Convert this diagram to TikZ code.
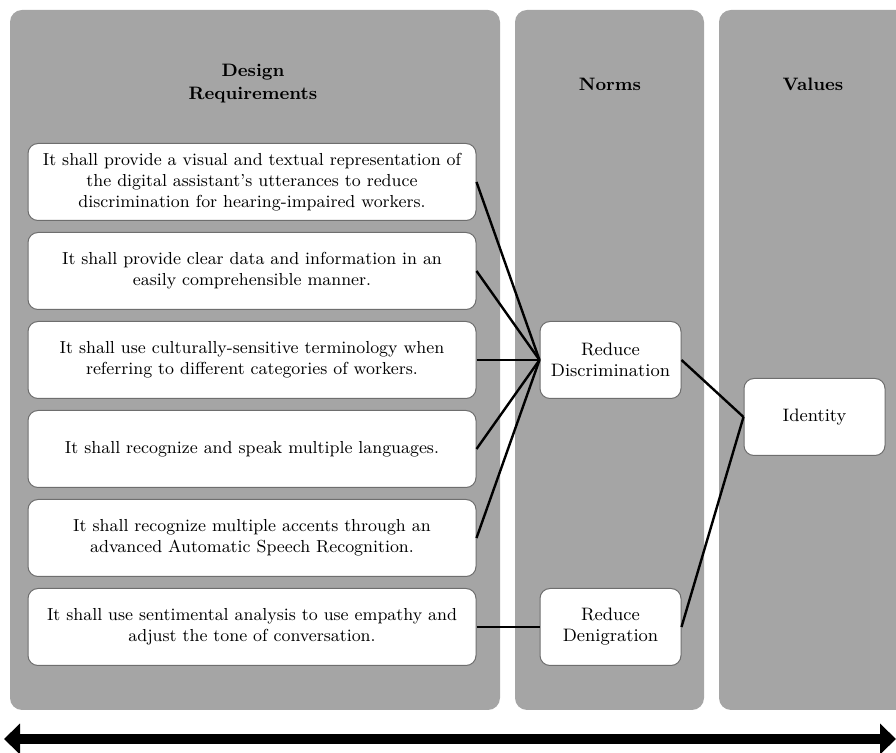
\documentclass[tikz,border=0pt]{standalone}
\usetikzlibrary{arrows.meta}
\definecolor{panelgray}{HTML}{A5A5A5}
\definecolor{boxline}{HTML}{6E6E6E}
\tikzset{
    panel/.style={fill=panelgray, rounded corners=6pt},
    head/.style={font=\fontsize{9}{11.5}\selectfont\bfseries, align=center},
    req/.style={draw=boxline, line width=0.5pt, fill=white, rounded corners=5pt,
        minimum width=224pt, minimum height=38.5pt, inner sep=0pt,
        align=center, font=\fontsize{8.7}{10.5}\selectfont},
    norm/.style={req, minimum width=70.5pt, font=\fontsize{9}{10.5}\selectfont},
    link/.style={line width=1.2pt}
}
\begin{document}
\begin{tikzpicture}[x=0.5pt,y=-0.5pt]
    \clip (0,0) rectangle (896,753);
    \fill[panel] (10,10) rectangle (500,710);
    \fill[panel] (515,10) rectangle (704,710);
    \fill[panel] (719,10) rectangle (930,710);
    \node[head] (dr) at (253,84) {Design\\Requirements};
    \node[head] (nm) at (610,84) {Norms};
    \node[head] (vl) at (813,84) {Values};
    \node[req] (r1) at (252,182) {It shall provide a visual and textual representation of\\the digital assistant's utterances to reduce\\discrimination for hearing-impaired workers.};
    \node[req] (r2) at (252,271) {It shall provide clear data and information in an\\easily comprehensible manner.};
    \node[req] (r3) at (252,360) {It shall use culturally-sensitive terminology when\\referring to different categories of workers.};
    \node[req] (r4) at (252,449) {It shall recognize and speak multiple languages.};
    \node[req] (r5) at (252,538) {It shall recognize multiple accents through an\\advanced Automatic Speech Recognition.};
    \node[req] (r6) at (252,627) {It shall use sentimental analysis to use empathy and\\adjust the tone of conversation.};
    \node[norm] (disc) at (610.5,360) {Reduce\\Discrimination};
    \node[norm] (deni) at (610.5,627) {Reduce\\Denigration};
    \node[norm] (iden) at (814.5,417) {Identity};
    \foreach \r in {r1,r2,r3,r4,r5}
        \draw[link] (\r.east) -- (disc.west);
    \draw[link] (r6.east) -- (deni.west);
    \draw[link] (disc.east) -- (iden.west);
    \draw[link] (deni.east) -- (iden.west);
    % axis arrow along the bottom
    \coordinate (al) at (4,739);
    \coordinate (ar) at (896,739);
    \draw[line width=5pt, {Triangle[length=8pt,width=15pt]}-{Triangle[length=8pt,width=15pt]}] (al) -- (ar);
\end{tikzpicture}
\end{document}
